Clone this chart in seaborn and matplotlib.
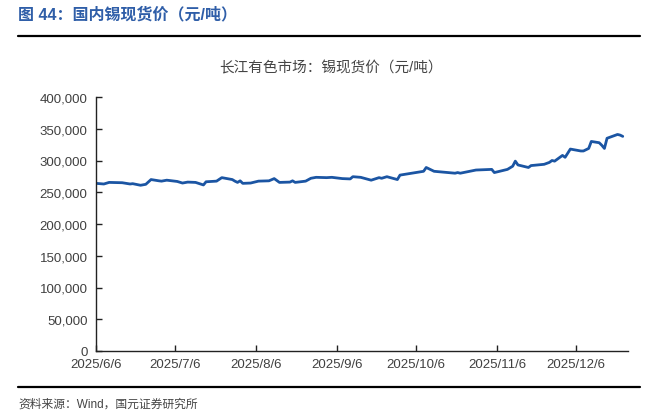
import pandas as pd
import matplotlib.pyplot as plt
import matplotlib.dates as mdates
from matplotlib.ticker import FuncFormatter
import seaborn as sns

# Chart data
dates = [
    '2025-06-06', '2025-06-09', '2025-06-11', '2025-06-16', '2025-06-19', '2025-06-20',
    '2025-06-23', '2025-06-25', '2025-06-27', '2025-06-30', '2025-07-01', '2025-07-03',
    '2025-07-07', '2025-07-09', '2025-07-11', '2025-07-14', '2025-07-17', '2025-07-18',
    '2025-07-22', '2025-07-24', '2025-07-28', '2025-07-29', '2025-07-30', '2025-07-31',
    '2025-08-01', '2025-08-04', '2025-08-07', '2025-08-11', '2025-08-13', '2025-08-15',
    '2025-08-19', '2025-08-20', '2025-08-21', '2025-08-25', '2025-08-27', '2025-08-29',
    '2025-09-02', '2025-09-04', '2025-09-08', '2025-09-11', '2025-09-12', '2025-09-15',
    '2025-09-19', '2025-09-22', '2025-09-23', '2025-09-25', '2025-09-29', '2025-09-30',
    '2025-10-09', '2025-10-10', '2025-10-13', '2025-10-21', '2025-10-22', '2025-10-23',
    '2025-10-29', '2025-11-04', '2025-11-05', '2025-11-10', '2025-11-12', '2025-11-13',
    '2025-11-14', '2025-11-18', '2025-11-19', '2025-11-24', '2025-11-26', '2025-11-27',
    '2025-11-28', '2025-12-01', '2025-12-02', '2025-12-04', '2025-12-08', '2025-12-09',
    '2025-12-11', '2025-12-12', '2025-12-15', '2025-12-16', '2025-12-17', '2025-12-18',
    '2025-12-22', '2025-12-23', '2025-12-24',
]
prices = [
    264000, 263000, 265500, 265000, 263000, 263500,
    261000, 262500, 270000, 268000, 267500, 269000,
    267000, 264500, 266000, 265500, 261500, 266500,
    267500, 273000, 270000, 267500, 265500, 268000,
    264000, 264500, 267500, 268000, 271500, 265500,
    266000, 268000, 265500, 267500, 272000, 273500,
    273000, 273500, 271500, 271000, 274500, 273500,
    269000, 273000, 272000, 274500, 270000, 277000,
    283000, 289000, 283000, 280000, 281000, 280000,
    285000, 286000, 281000, 286000, 291000, 299000,
    293000, 289000, 292000, 294000, 297000, 300000,
    299000, 308000, 305000, 318000, 315000, 315000,
    319000, 330000, 328000, 324000, 319000, 335000,
    341000, 340000, 338000,
]
xtick_dates = ['2025-06-06', '2025-07-06', '2025-08-06', '2025-09-06',
               '2025-10-06', '2025-11-06', '2025-12-06']

df = pd.DataFrame({'date': pd.to_datetime(dates), 'price': prices})

sns.set_theme(style='white')
plt.rcParams['font.family'] = ['Liberation Sans', 'Noto Sans CJK SC', 'DejaVu Sans']

fig = plt.figure(figsize=(6.65, 4.14), dpi=100)
ax = fig.add_axes([96 / 665, 1 - 352 / 414, (628 - 96) / 665, (352 - 98) / 414])

sns.lineplot(data=df, x='date', y='price', ax=ax, color='#1b55a3', linewidth=2.0)

ax.set_ylim(0, 400000)
ax.set_yticks(range(0, 400001, 50000))
ax.yaxis.set_major_formatter(FuncFormatter(lambda v, p: f'{int(v):,}'))
ax.set_xlim(pd.Timestamp('2025-06-06'), pd.Timestamp('2025-12-26'))
ax.set_xticks(pd.to_datetime(xtick_dates))
ax.xaxis.set_major_formatter(mdates.DateFormatter('%Y/%-m/%-d'))
ax.set_xlabel('')
ax.set_ylabel('')

for s in ['top', 'right']:
    ax.spines[s].set_visible(False)
for s in ['left', 'bottom']:
    ax.spines[s].set_color('#222222')
    ax.spines[s].set_linewidth(1.0)
ax.tick_params(axis='both', direction='in', length=4, width=1, color='#222222',
               labelsize=9.5, labelcolor='#404040', left=True, bottom=True)
ax.tick_params(axis='y', pad=6)
ax.tick_params(axis='x', pad=5)

# header, chart title, source note
fig.text(18 / 665, 1 - 15 / 414, '图 44：国内锡现货价（元/吨）', fontsize=11.5,
         fontweight='bold', color='#2f5ea8', va='center', ha='left')
fig.add_artist(plt.Line2D([18 / 665, 640 / 665], [1 - 37 / 414] * 2, color='black', linewidth=1.6))
fig.text(331 / 665, 1 - 68 / 414, '长江有色市场：锡现货价（元/吨）', fontsize=10.5,
         color='#444444', va='center', ha='center')
fig.add_artist(plt.Line2D([18 / 665, 640 / 665], [1 - 388 / 414] * 2, color='black', linewidth=1.6))
fig.text(18 / 665, 1 - 405 / 414, '资料来源：Wind，国元证券研究所', fontsize=8.5,
         color='#444444', va='center', ha='left')

fig.savefig('out.png', dpi=100)
